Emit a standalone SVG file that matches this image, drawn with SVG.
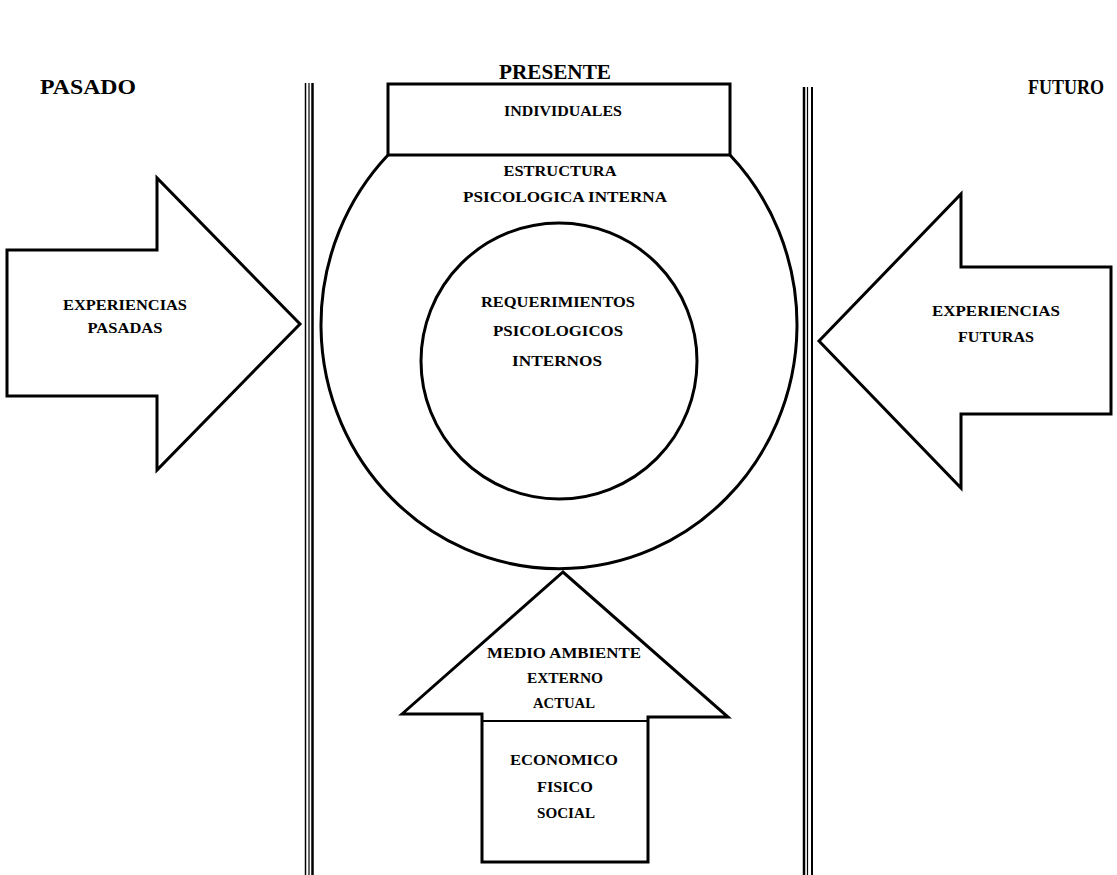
<svg xmlns="http://www.w3.org/2000/svg" width="1117" height="875" viewBox="0 0 1117 875">
<style>
.shape{fill:#fff;stroke:#000;stroke-width:3;stroke-linejoin:miter}
.thin{fill:none;stroke:#000;stroke-width:2}
.bar{stroke:#000;fill:none}
.t{font-family:"Liberation Serif","Times New Roman",serif;font-weight:bold;fill:#000;text-anchor:middle}
.h{font-size:20px}
.s{font-size:14px}
</style>
<rect width="1117" height="875" fill="#fff"/>
<g id="headers">
<text class="t h" x="88" y="94" textLength="96" lengthAdjust="spacingAndGlyphs">PASADO</text>
<text class="t h" x="555" y="79" textLength="112" lengthAdjust="spacingAndGlyphs">PRESENTE</text>
<text class="t h" x="1066" y="94" textLength="76" lengthAdjust="spacingAndGlyphs">FUTURO</text>
</g>
<g id="dividers">
<line class="bar" x1="305.5" y1="83" x2="305.5" y2="875" stroke-width="1.5"/>
<line class="bar" x1="309" y1="83" x2="309" y2="875" stroke-width="1.2"/>
<line class="bar" x1="312.5" y1="83" x2="312.5" y2="875" stroke-width="2.5"/>
<line class="bar" x1="804" y1="87" x2="804" y2="875" stroke-width="2.5"/>
<line class="bar" x1="807.5" y1="87" x2="807.5" y2="875" stroke-width="1.2"/>
<line class="bar" x1="812" y1="87" x2="812" y2="875" stroke-width="2"/>
</g>
<g id="estructura">
<path class="shape" d="M388,155 A238,244 0 1 0 730,155"/>
<text class="t s" x="560" y="176" textLength="113" lengthAdjust="spacingAndGlyphs">ESTRUCTURA</text>
<text class="t s" x="565" y="202" textLength="204" lengthAdjust="spacingAndGlyphs">PSICOLOGICA  INTERNA</text>
</g>
<g id="individuales">
<rect class="shape" x="388" y="84" width="342" height="71"/>
<text class="t s" x="563" y="116" textLength="118" lengthAdjust="spacingAndGlyphs">INDIVIDUALES</text>
</g>
<g id="requerimientos">
<ellipse class="shape" cx="559" cy="361" rx="138" ry="138"/>
<text class="t s" x="558" y="307" textLength="154" lengthAdjust="spacingAndGlyphs">REQUERIMIENTOS</text>
<text class="t s" x="558" y="336" textLength="130" lengthAdjust="spacingAndGlyphs">PSICOLOGICOS</text>
<text class="t s" x="557" y="366" textLength="90" lengthAdjust="spacingAndGlyphs">INTERNOS</text>
</g>
<g id="pasadas">
<polygon class="shape" points="7,250 157,250 157,178 300,324 157,470 157,396 7,396"/>
<text class="t s" x="125" y="310" textLength="124" lengthAdjust="spacingAndGlyphs">EXPERIENCIAS</text>
<text class="t s" x="125" y="333" textLength="75" lengthAdjust="spacingAndGlyphs">PASADAS</text>
</g>
<g id="futuras">
<polygon class="shape" points="819,341 961,194 961,267 1111,267 1111,414 961,414 961,488"/>
<text class="t s" x="996" y="316" textLength="128" lengthAdjust="spacingAndGlyphs">EXPERIENCIAS</text>
<text class="t s" x="996" y="342" textLength="76" lengthAdjust="spacingAndGlyphs">FUTURAS</text>
</g>
<g id="medio">
<polygon class="shape" points="402,714 563,572 728,717 648,717 648,862 482,862 482,714"/>
<line class="thin" x1="482" y1="721" x2="648" y2="721" stroke-width="1.5"/>
<text class="t s" x="564" y="658" textLength="154" lengthAdjust="spacingAndGlyphs">MEDIO AMBIENTE</text>
<text class="t s" x="565" y="683" textLength="76" lengthAdjust="spacingAndGlyphs">EXTERNO</text>
<text class="t s" x="564" y="708" textLength="62" lengthAdjust="spacingAndGlyphs">ACTUAL</text>
<text class="t s" x="564" y="765" textLength="108" lengthAdjust="spacingAndGlyphs">ECONOMICO</text>
<text class="t s" x="565" y="792" textLength="56" lengthAdjust="spacingAndGlyphs">FISICO</text>
<text class="t s" x="566" y="818" textLength="58" lengthAdjust="spacingAndGlyphs">SOCIAL</text>
</g>
</svg>
